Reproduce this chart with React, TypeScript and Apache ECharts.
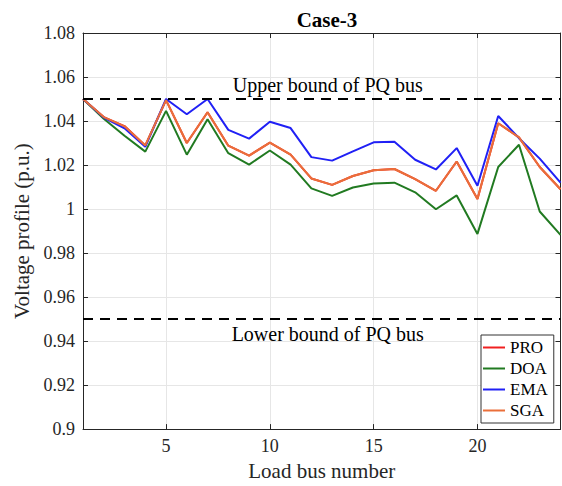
import React, { useEffect, useRef } from "react";
import * as echarts from "echarts";

const buses = [1, 2, 3, 4, 5, 6, 7, 8, 9, 10, 11, 12, 13, 14, 15, 16, 17, 18, 19, 20, 21, 22, 23, 24];
const xTicks = [5, 10, 15, 20];

const PRO = [1.050, 1.0418, 1.0377, 1.0289, 1.0495, 1.0300, 1.0440, 1.0288, 1.0243, 1.0302, 1.0247, 1.0139, 1.0110, 1.0150, 1.0176, 1.0182, 1.0136, 1.0083, 1.0216, 1.0046, 1.0390, 1.0326, 1.0191, 1.0090];
const DOA = [1.050, 1.0410, 1.0333, 1.0261, 1.0446, 1.0247, 1.0408, 1.0254, 1.0202, 1.0266, 1.0202, 1.0094, 1.0060, 1.0098, 1.0116, 1.0120, 1.0076, 0.9999, 1.0062, 0.9887, 1.0191, 1.0292, 0.9989, 0.9883];
const EMA = [1.050, 1.0416, 1.0367, 1.0283, 1.0500, 1.0431, 1.0500, 1.0360, 1.0320, 1.0397, 1.0368, 1.0236, 1.0220, 1.0262, 1.0303, 1.0306, 1.0224, 1.0180, 1.0277, 1.0106, 1.0423, 1.0322, 1.0229, 1.0120];
const SGA = [1.050, 1.0418, 1.0376, 1.0289, 1.0495, 1.0300, 1.0440, 1.0288, 1.0243, 1.0302, 1.0247, 1.0139, 1.0110, 1.0150, 1.0176, 1.0182, 1.0136, 1.0083, 1.0216, 1.0046, 1.0390, 1.0326, 1.0191, 1.0090];

const upperBound = 1.05;
const lowerBound = 0.95;

const FONT = "'Liberation Serif', 'Times New Roman', serif";
const AX = "#262626";

export default function App() {
  const ref = useRef<HTMLDivElement>(null);
  useEffect(() => {
    document.body.style.margin = "0";
    const chart = echarts.init(ref.current!, null, { renderer: "svg" });
    const mk = (name: string, vals: number[], color: string, extra: any = {}) => ({
      name,
      type: "line",
      data: buses.map((b, i) => [b, vals[i]]),
      showSymbol: false,
      symbol: "none",
      lineStyle: { color, width: 2 },
      itemStyle: { color },
      ...extra,
    });
    chart.setOption({
      animation: false,
      backgroundColor: "#ffffff",
      title: {
        text: "Case-3",
        left: 322,
        top: 4,
        textAlign: "center",
        textStyle: { fontFamily: FONT, fontSize: 21, fontWeight: "bold", color: "#000" },
      },
      grid: { left: 83, right: 1.5, top: 33, bottom: 53, containLabel: false },
      legend: {
        orient: "vertical",
        left: 481,
        top: 335,
        padding: [4, 6, 4, 2],
        itemGap: 4,
        itemWidth: 22,
        itemHeight: 2,
        icon: "rect",
        backgroundColor: "#ffffff",
        borderColor: "#333333",
        borderWidth: 1,
        textStyle: { fontFamily: FONT, fontSize: 17, color: "#000" },
        data: ["PRO", "DOA", "EMA", "SGA"],
      },
      xAxis: [
        {
          type: "value",
          min: 1,
          max: 24,
          name: "Load bus number",
          nameLocation: "middle",
          nameGap: 30,
          nameTextStyle: { fontFamily: FONT, fontSize: 21, color: AX },
          axisLine: { show: true, lineStyle: { color: AX, width: 1 } },
          axisTick: { show: true, inside: true, length: 5, customValues: xTicks, lineStyle: { color: AX } },
          axisLabel: { customValues: xTicks, fontFamily: FONT, fontSize: 18, color: AX, margin: 8 },
          splitLine: { show: true, lineStyle: { color: "#e6e6e6", width: 1 } },
        },
        {
          type: "value",
          position: "top",
          min: 1,
          max: 24,
          axisLine: { show: true, lineStyle: { color: AX, width: 1 } },
          axisTick: { show: true, inside: true, length: 5, customValues: xTicks, lineStyle: { color: AX } },
          axisLabel: { show: false },
          splitLine: { show: false },
        },
      ],
      yAxis: [
        {
          type: "value",
          min: 0.9,
          max: 1.08,
          interval: 0.02,
          name: "Voltage profile (p.u.)",
          nameLocation: "middle",
          nameGap: 38,
          nameRotate: 90,
          nameTextStyle: { fontFamily: FONT, fontSize: 21, color: AX },
          axisLine: { show: true, lineStyle: { color: AX, width: 1 } },
          axisTick: { show: true, inside: true, length: 5, lineStyle: { color: AX } },
          axisLabel: {
            fontFamily: FONT,
            fontSize: 18,
            color: AX,
            margin: 8,
            formatter: (v: number) => String(parseFloat(v.toFixed(2))),
          },
          splitLine: { show: true, lineStyle: { color: "#e6e6e6", width: 1 } },
        },
        {
          type: "value",
          position: "right",
          min: 0.9,
          max: 1.08,
          interval: 0.02,
          axisLine: { show: true, lineStyle: { color: AX, width: 1 } },
          axisTick: { show: true, inside: true, length: 5, lineStyle: { color: AX } },
          axisLabel: { show: false },
          splitLine: { show: false },
        },
      ],
      series: [
        mk("PRO", PRO, "#f02020", {
          markLine: {
            silent: true,
            symbol: "none",
            animation: false,
            lineStyle: { color: "#000", width: 2, type: [10, 7] },
            data: [
              {
                yAxis: upperBound,
                label: {
                  show: true,
                  position: "middle",
                  formatter: "Upper bound of PQ bus",
                  fontFamily: FONT,
                  fontSize: 20,
                  color: "#000",
                  distance: 4,
                  offset: [6, 0],
                },
              },
              {
                yAxis: lowerBound,
                label: {
                  show: true,
                  position: "insideMiddleBottom",
                  formatter: "Lower bound of PQ bus",
                  fontFamily: FONT,
                  fontSize: 20,
                  color: "#000",
                  distance: 5,
                  offset: [6, 0],
                },
              },
            ],
          },
        }),
        mk("DOA", DOA, "#217a21"),
        mk("EMA", EMA, "#2020f5"),
        mk("SGA", SGA, "#ea6f3a"),
      ],
    });
    return () => chart.dispose();
  }, []);
  return (
    <div
      ref={ref}
      style={{ position: "absolute", left: 0, top: 0, width: 562, height: 486 }}
    />
  );
}
